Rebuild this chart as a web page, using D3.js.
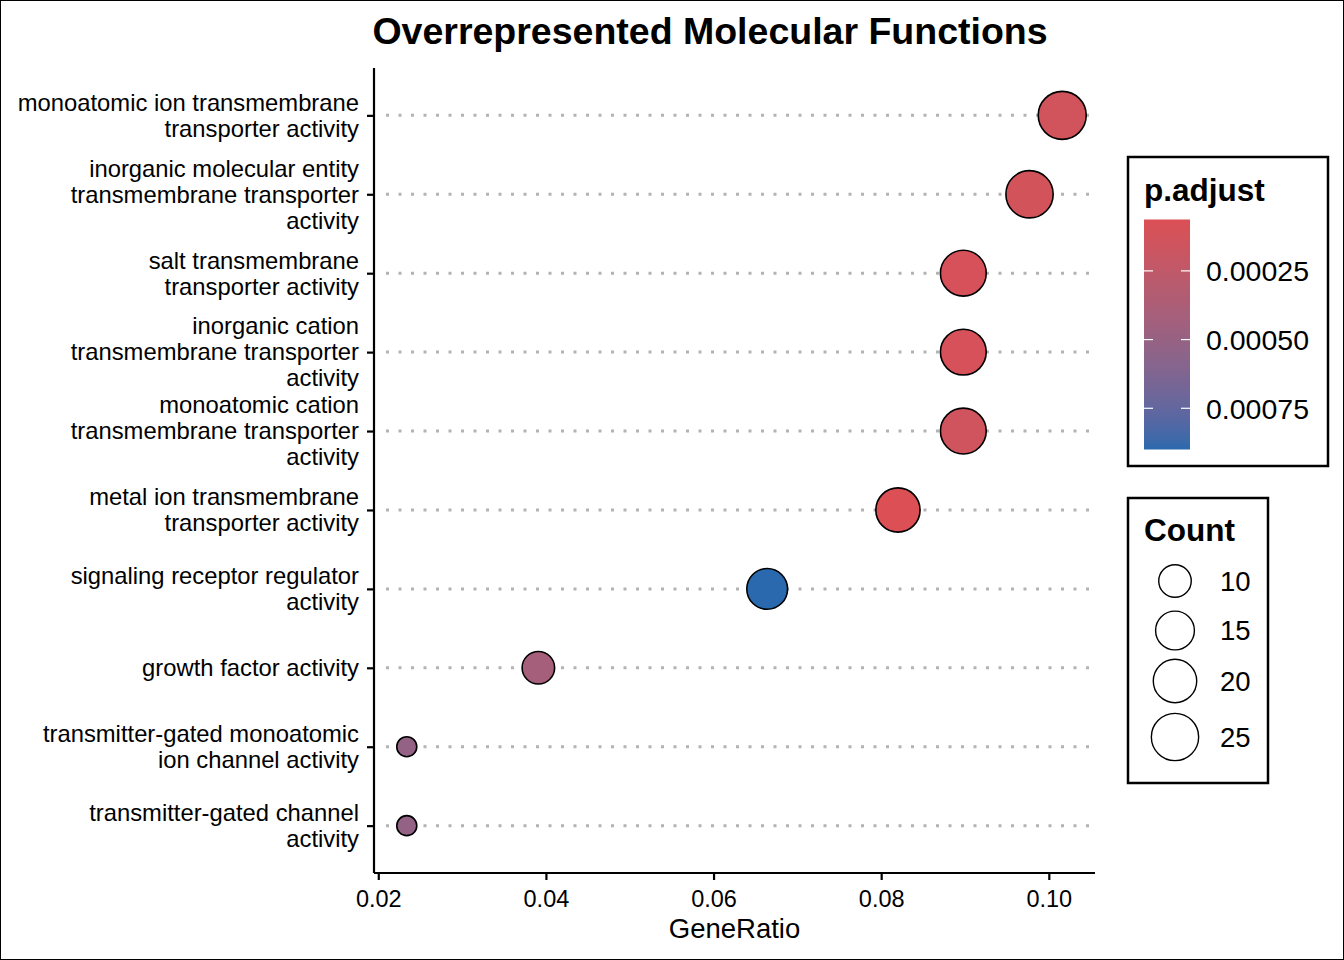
<!DOCTYPE html>
<html lang="en">
<head>
    <meta charset="utf-8" />
    <script src="https://d3js.org/d3.v7.min.js"></script>
    <style>
        body { margin: 0; background: #fff; }
        svg { display: block; font-family: "Liberation Sans", Arial, sans-serif; }
    </style>
</head>
<body>
    <script>
        const w = 1344;
        const h = 960;

        // data, top row first
        const categories = [
            "monoatomic ion transmembrane\ntransporter activity",
            "inorganic molecular entity\ntransmembrane transporter\nactivity",
            "salt transmembrane\ntransporter activity",
            "inorganic cation\ntransmembrane transporter\nactivity",
            "monoatomic cation\ntransmembrane transporter\nactivity",
            "metal ion transmembrane\ntransporter activity",
            "signaling receptor regulator\nactivity",
            "growth factor activity",
            "transmitter-gated monoatomic\nion channel activity",
            "transmitter-gated channel\nactivity"
        ];
        const geneRatio = [0.1016, 0.0977, 0.0898, 0.0898, 0.0898, 0.0820, 0.0664, 0.0391, 0.0234, 0.0234];
        const counts = [26, 25, 23, 23, 23, 21, 17, 10, 6, 6];
        const pAdjust = [0.00013, 0.00012, 0.00010, 0.00010, 0.00014, 0.000063, 0.0009, 0.00041, 0.00052, 0.00052];

        const xTicks = [0.02, 0.04, 0.06, 0.08, 0.10];
        const colorTicks = [0.00025, 0.00050, 0.00075];
        const countTicks = [10, 15, 20, 25];

        const data = categories.map((c, i) => ({
            term: c, ratio: geneRatio[i], count: counts[i], p: pAdjust[i]
        }));

        // panel box
        const pLeft = 374, pRight = 1095, pTop = 68, pBottom = 873;

        const svg = d3.select("body")
            .append("svg")
            .attr("width", w)
            .attr("height", h);

        svg.append("rect")
            .attr("x", 0.5).attr("y", 0.5)
            .attr("width", w - 1).attr("height", h - 1)
            .attr("fill", "#fff")
            .attr("stroke", "#000")
            .attr("stroke-width", 1);

        // x domain expanded 5% like ggplot
        const ext = d3.extent(geneRatio);
        const pad = (ext[1] - ext[0]) * 0.05;
        const xScale = d3.scaleLinear()
            .domain([ext[0] - pad, ext[1] + pad])
            .range([pLeft, pRight]);

        const yScale = d3.scalePoint()
            .domain(categories)
            .range([pTop, pBottom])
            .padding(0.6);

        const pExt = d3.extent(pAdjust);
        const colorScale = d3.scaleLinear()
            .domain(pExt)
            .range(["#db4f55", "#2b69ae"])
            .interpolate(d3.interpolateLab);

        const cExt = d3.extent(counts);
        const sizeNorm = d3.scaleLinear().domain(cExt).range([0, 1]);
        const rScale = d3.scaleLinear().domain([0, 1]).range([10, 24]);
        const radius = c => rScale(Math.sqrt(sizeNorm(c)));

        // dotted grid lines
        svg.append("g")
            .selectAll("line")
            .data(categories)
            .join("line")
            .attr("x1", pLeft + 12).attr("x2", pRight)
            .attr("y1", d => yScale(d)).attr("y2", d => yScale(d))
            .attr("stroke", "#b3b3b3")
            .attr("stroke-width", 3)
            .attr("stroke-dasharray", "3,9.5");

        // axes
        const xAxis = d3.axisBottom(xScale)
            .tickValues(xTicks)
            .tickFormat(d3.format(".2f"))
            .tickSizeOuter(0)
            .tickSize(7)
            .tickPadding(10);

        const gx = svg.append("g")
            .attr("transform", "translate(0," + pBottom + ")")
            .call(xAxis);
        gx.select(".domain").attr("d", `M${pLeft},0H${pRight}`).attr("stroke-width", 2.2);
        gx.selectAll(".tick line").attr("stroke-width", 2.2);
        gx.selectAll(".tick text")
            .attr("font-size", 23.5)
            .attr("fill", "#000");

        const yAxis = d3.axisLeft(yScale)
            .tickSizeOuter(0)
            .tickSize(7)
            .tickFormat("");

        const gy = svg.append("g")
            .attr("transform", "translate(" + pLeft + ",0)")
            .call(yAxis);
        gy.select(".domain").attr("d", `M0,${pTop}V${pBottom}`).attr("stroke-width", 2.2);
        gy.selectAll(".tick line").attr("stroke-width", 2.2);

        // multi-line y labels
        const lineH = 26;
        const ylab = svg.append("g")
            .selectAll("text")
            .data(categories)
            .join("text")
            .attr("text-anchor", "end")
            .attr("font-size", 23.8)
            .attr("fill", "#000");
        ylab.each(function (d) {
            const lines = d.split("\n");
            const y0 = yScale(d) - (lines.length - 1) * lineH / 2;
            d3.select(this).selectAll("tspan")
                .data(lines)
                .join("tspan")
                .attr("x", 359)
                .attr("y", (l, i) => y0 + i * lineH)
                .attr("dy", "0.35em")
                .text(l => l);
        });

        svg.append("text")
            .attr("x", (pLeft + pRight) / 2)
            .attr("y", 938)
            .attr("text-anchor", "middle")
            .attr("font-size", 27.5)
            .text("GeneRatio");

        svg.append("text")
            .attr("x", 710)
            .attr("y", 43.5)
            .attr("text-anchor", "middle")
            .attr("font-size", 37.5)
            .attr("font-weight", "bold")
            .text("Overrepresented Molecular Functions");

        // points
        svg.append("g")
            .selectAll("circle")
            .data(data)
            .join("circle")
            .attr("cx", d => xScale(d.ratio))
            .attr("cy", d => yScale(d.term))
            .attr("r", d => radius(d.count))
            .attr("fill", d => colorScale(d.p))
            .attr("stroke", "#000")
            .attr("stroke-width", 1.6);

        // p.adjust legend
        const lg1 = svg.append("g");
        lg1.append("rect")
            .attr("x", 1128).attr("y", 157)
            .attr("width", 200).attr("height", 309)
            .attr("fill", "#fff")
            .attr("stroke", "#000")
            .attr("stroke-width", 2.5);
        lg1.append("text")
            .attr("x", 1144).attr("y", 201)
            .attr("font-size", 31.5)
            .attr("font-weight", "bold")
            .text("p.adjust");

        const barTop = 219.5, barBot = 449.5, barX = 1144, barW = 46;
        const defs = svg.append("defs");
        const grad = defs.append("linearGradient")
            .attr("id", "pgrad")
            .attr("x1", 0).attr("x2", 0).attr("y1", 0).attr("y2", 1);
        d3.range(0, 1.0001, 0.05).forEach(t => {
            grad.append("stop")
                .attr("offset", t)
                .attr("stop-color", colorScale(pExt[0] + t * (pExt[1] - pExt[0])));
        });
        lg1.append("rect")
            .attr("x", barX).attr("y", barTop)
            .attr("width", barW).attr("height", barBot - barTop)
            .attr("fill", "url(#pgrad)");

        const pY = d3.scaleLinear().domain(pExt).range([barTop, barBot]);
        colorTicks.forEach(v => {
            const y = pY(v);
            lg1.append("line")
                .attr("x1", barX).attr("x2", barX + 9)
                .attr("y1", y).attr("y2", y)
                .attr("stroke", "#fff").attr("stroke-width", 1.2);
            lg1.append("line")
                .attr("x1", barX + barW - 9).attr("x2", barX + barW)
                .attr("y1", y).attr("y2", y)
                .attr("stroke", "#fff").attr("stroke-width", 1.2);
            lg1.append("text")
                .attr("x", 1206).attr("y", y)
                .attr("dy", "0.36em")
                .attr("font-size", 28.5)
                .text(d3.format(".5f")(v));
        });

        // Count legend
        const lg2 = svg.append("g");
        lg2.append("rect")
            .attr("x", 1128).attr("y", 498)
            .attr("width", 140).attr("height", 285)
            .attr("fill", "#fff")
            .attr("stroke", "#000")
            .attr("stroke-width", 2.5);
        lg2.append("text")
            .attr("x", 1144).attr("y", 541)
            .attr("font-size", 31.5)
            .attr("font-weight", "bold")
            .text("Count");

        const countY = [581, 630.5, 681, 737];
        countTicks.forEach((c, i) => {
            lg2.append("circle")
                .attr("cx", 1175).attr("cy", countY[i])
                .attr("r", radius(c))
                .attr("fill", "#fff")
                .attr("stroke", "#000")
                .attr("stroke-width", 1.4);
            lg2.append("text")
                .attr("x", 1220).attr("y", countY[i])
                .attr("dy", "0.36em")
                .attr("font-size", 27.5)
                .text(c);
        });
    </script>
</body>
</html>
